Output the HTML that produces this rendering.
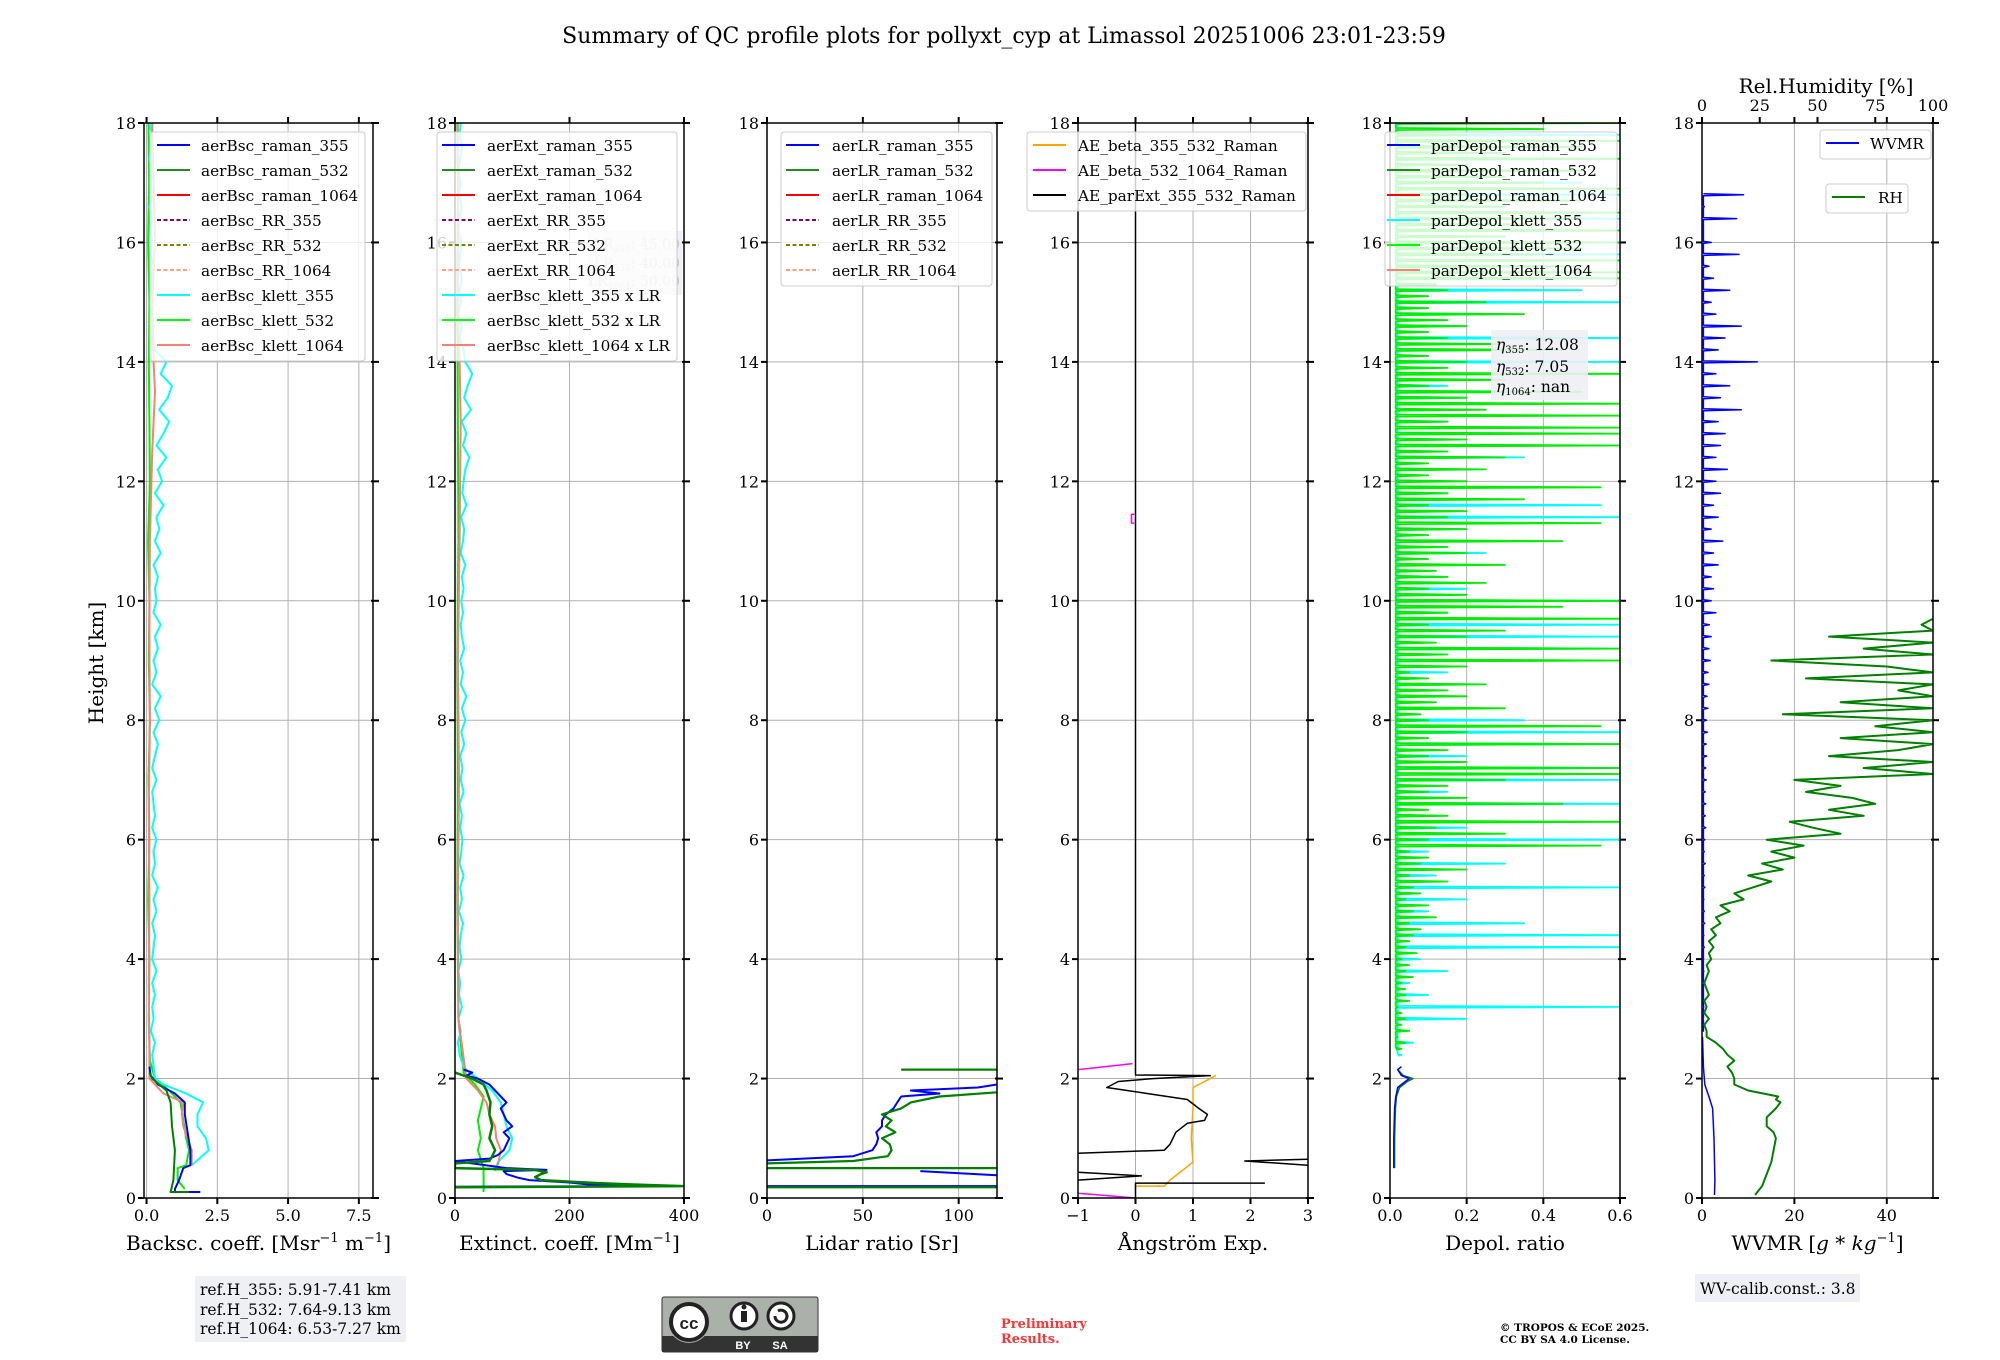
<!DOCTYPE html>
<html><head><meta charset="utf-8"><style>
html,body{margin:0;padding:0;background:#fff;}
svg{display:block;font-family:"DejaVu Serif","Liberation Serif",serif;}
</style></head><body>
<svg id="fig" width="2000" height="1360" viewBox="0 0 2000 1360" xmlns="http://www.w3.org/2000/svg">
<text x="1004" y="43" font-size="22" text-anchor="middle">Summary of QC profile plots for pollyxt_cyp at Limassol 20251006 23:01-23:59</text>
<text transform="translate(103,663) rotate(-90)" font-size="20" text-anchor="middle">Height [km]</text>
<g id="panels"></g>
<g>
<rect x="195" y="1276" width="211" height="66" fill="#eef0f4"/>
<text x="200" y="1295" font-size="15.5">ref.H_355: 5.91-7.41 km</text>
<text x="200" y="1315" font-size="15.5">ref.H_532: 7.64-9.13 km</text>
<text x="200" y="1334" font-size="15.5">ref.H_1064: 6.53-7.27 km</text>
</g>
<g>
<rect x="1695" y="1274" width="165" height="28" fill="#eef0f4"/>
<text x="1700" y="1294" font-size="15.5">WV-calib.const.: 3.8</text>
</g>
<g>
<rect x="662" y="1297" width="156" height="55" rx="2" fill="#abb1aa" stroke="#333" stroke-width="1"/>
<rect x="662" y="1336" width="156" height="16" fill="#333"/>
<circle cx="689" cy="1322" r="21" fill="#abb1aa"/>
<circle cx="689" cy="1322" r="18" fill="#fff" stroke="#222" stroke-width="4"/>
<text x="689" y="1329" font-size="17" font-weight="bold" text-anchor="middle" font-family="Liberation Sans,sans-serif" fill="#222">cc</text>
<circle cx="744" cy="1316" r="13" fill="#fff" stroke="#222" stroke-width="3"/>
<rect x="741" y="1311" width="6" height="11" fill="#222"/><circle cx="744" cy="1307" r="2.5" fill="#222"/>
<circle cx="781" cy="1316" r="13" fill="#fff" stroke="#222" stroke-width="3"/>
<path d="M775 1316 a6 6 0 1 0 3 -5" fill="none" stroke="#222" stroke-width="3"/>
<text x="743" y="1349" font-size="11" font-weight="bold" text-anchor="middle" fill="#fff" font-family="Liberation Sans,sans-serif">BY</text>
<text x="780" y="1349" font-size="11" font-weight="bold" text-anchor="middle" fill="#fff" font-family="Liberation Sans,sans-serif">SA</text>
</g>
<text x="1001" y="1328" font-size="13" font-weight="bold" fill="#ff3333">Preliminary</text>
<text x="1001" y="1343" font-size="13" font-weight="bold" fill="#ff3333">Results.</text>
<text x="1500" y="1331" font-size="10.5" font-weight="bold">© TROPOS &amp; ECoE 2025.</text>
<text x="1500" y="1343" font-size="10.5" font-weight="bold">CC BY SA 4.0 License.</text>
</svg>
<script>
// ---------- data ----------
const heightTicks = [0,2,4,6,8,10,12,14,16,18];
// Panel 1: backscatter [Msr-1 m-1]
const bscTicks = [0,2.5,5,7.5];
const bscTickLabels = ["0.0","2.5","5.0","7.5"];
const bscRaman355H = [0.1,0.1,0.15,0.3,0.5,0.55,0.8,1.1,1.4,1.6,1.75,1.9,2.05,2.2];
const bscRaman355V = [1.9,1.0,1.0,1.15,1.3,1.55,1.55,1.45,1.35,1.35,1.0,0.4,0.15,0.1];
const bscRaman532H = [0.1,0.1,0.3,0.8,1.2,1.6,1.8,2.0,2.1];
const bscRaman532V = [1.5,0.85,0.95,1.0,0.9,0.85,0.7,0.2,0.1];
const bscKlett355LowH = [0.55,0.8,1.0,1.2,1.4,1.6,1.75,1.9,2.0];
const bscKlett355LowV = [1.6,2.2,2.1,1.8,1.8,2.0,1.4,0.6,0.3];
const bscKlett355UpV = [0.25,0.2,0.3,0.15,0.25,0.2,0.3,0.2,0.35,0.2,
 0.25,0.3,0.2,0.35,0.25,0.4,0.2,0.3,0.25,0.35,
 0.2,0.3,0.25,0.2,0.35,0.2,0.3,0.4,0.25,0.45,
 0.3,0.5,0.2,0.35,0.25,0.4,0.3,0.5,0.25,0.35,
 0.3,0.4,0.25,0.5,0.3,0.45,0.35,0.6,0.3,0.55,
 0.4,0.7,0.35,0.6,0.8,0.45,0.75,0.9,0.5,0.7,
 0.3,0.2,0.25,0.15,0.2,0.15,0.2,0.25,0.15,0.2,
 0.15,0.2,0.1,0.25,0.15,0.2,0.1,0.15,0.2,0.1];
const bscKlett532H = [0.15,0.3,0.5,0.55,0.8,1.0,1.3,1.6,1.8,2.0,2.3,3,4,5,6,7,8,9,10,11,12,13,14,15,16,17,18];
const bscKlett532V = [1.35,1.1,1.1,1.4,1.5,1.4,1.3,1.2,0.8,0.3,0.12,0.08,0.1,0.06,0.1,0.07,0.12,0.08,0.1,0.06,0.12,0.1,0.08,0.1,0.06,0.09,0.07];
const bscKlett1064H = [0.55,0.8,1.0,1.2,1.4,1.6,1.75,2.0,2.5,3.5,5,6.5,8,9.5,11,12.5,13.5,14,15,16,17,18];
const bscKlett1064V = [1.6,1.6,1.45,1.3,1.25,1.3,0.6,0.1,0.1,0.08,0.1,0.08,0.12,0.1,0.12,0.2,0.3,0.25,0.2,0.3,0.25,0.2];
// Panel 2: extinction [Mm-1]
const extTicks = [0,200,400];
const extTickLabels = ["0","200","400"];
const extRaman355H = [0.19,0.2,0.22,0.26,0.3,0.34,0.4,0.45,0.47,0.5,0.62,0.66,0.72,0.8,0.9,1.0,1.1,1.2,1.3,1.4,1.5,1.6,1.7,1.8,1.9,2.0,2.05,2.1,2.15];
const extRaman355V = [0,300,240,200,130,110,90,85,160,90,0,60,75,85,90,95,85,100,90,85,80,90,80,70,60,40,20,30,15];
const extRaman532H = [0.18,0.2,0.22,0.25,0.3,0.35,0.4,0.43,0.47,0.5,0.52,0.58,0.62,0.7,0.8,1.0,1.2,1.4,1.6,1.8,1.9,2.0,2.1];
const extRaman532V = [0,400,330,250,150,140,150,160,140,0,0,0,60,65,70,60,65,60,62,55,50,30,0];
const extKlett355LowH = [0.45,0.6,0.8,1.0,1.2,1.4,1.6,1.8,2.0,2.1,2.2];
const extKlett355LowV = [70,75,95,100,90,85,80,65,40,25,15];
const extKlett355UpV = [8,5,10,6,12,7,9,6,11,8,
 10,14,7,12,9,15,8,11,13,9,
 12,8,15,10,13,9,16,11,18,12,
 20,10,14,9,16,12,10,14,11,15,
 12,18,10,14,16,11,20,13,15,18,
 25,14,20,12,28,16,22,30,18,15,
 8,12,6,10,8,12,7,9,11,6,
 8,12,7,10,6,9,12,8,10];
const extKlett532H = [0.1,0.5,0.8,1.0,1.3,1.5,1.7,1.9,2.1,3,5,7,9,11,13,15,17,18];
const extKlett532V = [50,50,40,45,40,45,50,35,15,6,4,5,4,6,5,4,5,4];
const extKlett1064H = [0.55,0.8,1.0,1.2,1.4,1.6,1.8,2.0,3,5,7,9,11,13,14,15,17,18];
const extKlett1064V = [75,80,72,70,60,55,40,20,6,5,7,5,8,10,8,5,6,5];
// Panel 3: lidar ratio [sr]
const lrTicks = [0,50,100];
const lrTickLabels = ["0","50","100"];
const lr355H = [0.2,0.2,null,0.38,0.45,null,0.63,0.7,0.8,0.9,1.0,1.1,1.2,1.3,1.4,1.5,1.6,1.7,1.75,1.8,1.85,1.9];
const lr355V = [0,120,null,120,80,null,0,45,55,57,58,57,60,60,62,66,68,70,90,75,110,120];
const lr532H = [0.18,0.18,null,0.5,0.5,null,0.58,0.62,0.7,0.8,0.9,1.0,1.1,1.2,1.3,1.4,1.5,1.6,1.7,1.77,null,2.15,2.15];
const lr532V = [0,120,null,0,120,null,0,45,63,65,64,60,67,62,65,60,70,75,90,120,null,70,120];
// Panel 4: Angstrom exponent
const aeTicks = [-1,0,1,2,3];
const aeTickLabels = ["\u22121","0","1","2","3"];
const aeBeta355532H = [0.15,0.2,0.2,0.3,0.45,0.6,1.0,1.5,1.85,2.0,2.05];
const aeBeta355532V = [0,0,0.5,0.6,0.8,1.0,0.97,1.0,1.0,1.3,1.4];
const aeBeta5321064H = [0,0.08,null,2.15,2.25,null,11.3,11.3,11.45,11.45];
const aeBeta5321064V = [0,-1,null,-1,-0.05,null,-0.02,-0.07,-0.07,-0.02];
const aeParExtH = [0,0.25,0.25,null,0.3,0.37,0.43,null,0.55,0.62,0.65,null,0.75,0.8,0.9,1.1,1.25,1.3,1.4,1.5,1.65,1.75,1.85,1.95,2.0,2.05,2.06,18];
const aeParExtV = [0,0,2.25,null,-1,0.1,-1,null,3,1.9,3,null,-1,0.5,0.6,0.7,0.9,1.2,1.25,1.1,0.9,0.2,-0.5,-0.3,0.3,1.3,0,0];
// Panel 5: particle depolarization ratio
const dpTicks = [0,0.2,0.4,0.6];
const dpTickLabels = ["0.0","0.2","0.4","0.6"];
const dpRaman355H = [0.5,1.0,1.5,1.7,1.85,1.95,2.0,2.05,2.15,2.2];
const dpRaman355V = [0.01,0.01,0.012,0.015,0.02,0.04,0.05,0.03,0.02,0.03];
const dpRaman532H = [0.5,1.0,1.5,1.7,1.85,1.95,2.0,2.05,2.15];
const dpRaman532V = [0.012,0.012,0.014,0.017,0.025,0.045,0.06,0.035,0.02];
const dpKlett532V = [.03,.04,.02,.05,.03,.04,.03,.02,.05,.04,
 .04,.03,.06,.04,.05,.03,.07,.04,.05,.06,
 .08,.05,.12,.06,.1,.04,.08,.06,.15,.05,
 .2,.08,.1,.05,.55,.1,.3,.12,.6,.15,
 .1,.45,.2,.1,.15,.3,.6,.6,.2,.1,
 .15,.6,.1,.2,.55,.1,.08,.3,.12,.2,
 .15,.25,.1,.05,.2,.6,.15,.6,.12,.2,
 .3,.1,.6,.15,.45,.6,.2,.1,.25,.15,
 .12,.3,.1,.2,.15,.45,.1,.2,.55,.15,
 .2,.1,.35,.15,.55,.2,.1,.25,.1,.3,
 .15,.6,.2,.6,.6,.15,.6,.25,.6,.2,
 .5,.1,.3,.6,.15,.2,.1,.45,.3,.15,
 .1,.2,.15,.35,.1,.25,.1,.15,.12,.6,
 .6,.5,.6,.4,.5,.6,.3,.6,.4,.5,
 .6,.3,.5,.2,.6,.4,.3,.5,.2,.6,
 .3,.5,.6,.2,.4,.6];
const dpKlett355V = [.03,.06,.04,.2,.6,.1,.05,.15,.08,.6,
 .6,.35,.1,.2,.6,.12,.3,.1,.6,.2,
 .1,.6,.15,.6,.6,.2,.6,.6,.35,.15,
 .1,.2,.15,.2,.6,.6,.6,.15,.6,.2,
 .15,.1,.25,.3,.2,.6,.55,.15,.1,.2,
 .35,.1,.2,.15,.1,.2,.15,.1,.6,.3,
 .6,.2,.3,.6,.5,.6,.4,.6,.3,.5,
 .6,.3,.6,.5,.4,.6,.5,.6,.4];
// Panel 6: WVMR [g/kg] and RH [%]
const wvTicks = [0,20,40];
const wvTickLabels = ["0","20","40"];
const rhTicks = [0,25,50,75,100];
const rhTickLabels = ["0","25","50","75","100"];
const wvLowH = [0.05,0.3,1.0,1.5,1.7,1.9,2.2,2.7];
const wvLowV = [2.7,2.8,2.6,2.3,1.5,0.6,0.3,0.1];
const wvUpV = [.3,.2,.4,.3,.5,.4,.3,.5,.4,.6,
 .5,.4,.6,.5,.7,.5,.6,.8,.7,.8,
 .7,.9,.8,1,.9,1.2,1,1.3,1.1,1.5,
 1.3,1.8,1.5,2,1.6,3,2,2.5,2,3.5,
 2.5,4.5,2,3.5,2.5,4,3,5.5,3,4,
 5,3.5,8.5,4,6,3,12,3.5,5,8.5,
 3,2,6,2.5,1.5,8,2,0.3,7.5,0.5,
 9];
const rhLowH = [0.05,0.1,0.2,0.4,0.6,0.8,1.0,1.1,1.2,1.35,1.5,1.6,1.65,1.7,1.8,1.9,2.0,2.1,2.2,2.3,2.4,2.5,2.6,2.7];
const rhLowV = [23,24,26,28,30,31,32,31,28,28,32,34,32,33,20,14,14,13,11,14,11,9,6,2];
const rhUpV = [2,1,3,1,2,1,3,2,1,2,
 3,2,4,3,5,3,6,4,8,6,
 12,8,18,14,22,30,20,35,26,40,
 30,44,28,60,48,38,70,55,75,65,
 45,60,40,100,70,100,55,85,100,60,
 100,75,100,35,100,60,100,85,100,45,
 100,80,30,100,70,100,55,100,95,100];

// ---------- layout ----------
const NS = "http://www.w3.org/2000/svg";
const TOP = 123, BOT = 1198, HMAX = 18;
function Y(h){ return BOT - h*(BOT-TOP)/HMAX; }
function grid(start, step, n){ const a=[]; for(let i=0;i<n;i++) a.push(+(start+i*step).toFixed(3)); return a; }
const panels = [
 {id:"bsc", x0:144, x1:373, min:-0.09, max:8},
 {id:"ext", x0:455, x1:684, min:0, max:400},
 {id:"lr", x0:767, x1:997, min:0, max:120},
 {id:"ae", x0:1078, x1:1308, min:-1, max:3},
 {id:"dp", x0:1390, x1:1620, min:0, max:0.6},
 {id:"wv", x0:1702, x1:1933, min:0, max:50}
];
function X(p,v){ return p.x0 + (v-p.min)/(p.max-p.min)*(p.x1-p.x0); }
const root = document.getElementById("panels");
const fig = document.getElementById("fig");
function mk(tag, attrs, parent){ const e=document.createElementNS(NS,tag); for(const k in attrs) e.setAttribute(k,attrs[k]); (parent||root).appendChild(e); return e; }
const defs = mk("defs",{},fig);

function drawAxes(p, ticks, labels, xlabel){
  const g = mk("g",{});
  
  
  const cp = mk("clipPath",{id:"clip-"+p.id},defs);
  mk("rect",{x:p.x0,y:TOP,width:p.x1-p.x0,height:BOT-TOP},cp);
  ticks.forEach((t,i)=>{
    const x = X(p,t);
    const gl = mk("line",{x1:x,x2:x,y1:TOP,y2:BOT,stroke:"#b0b0b0","stroke-width":1},g);
    
    
    mk("line",{x1:x,x2:x,y1:BOT,y2:BOT+6,stroke:"#000","stroke-width":2},g);
    mk("line",{x1:x,x2:x,y1:TOP,y2:TOP-6,stroke:"#000","stroke-width":2},g);
    const tl = mk("text",{x:x,y:BOT+23,"font-size":16,"text-anchor":"middle"},g);
    tl.textContent = labels[i];
    
    
  });
  heightTicks.forEach(h=>{
    const y = Y(h);
    const gl = mk("line",{x1:p.x0,x2:p.x1,y1:y,y2:y,stroke:"#b0b0b0","stroke-width":1},g);
    
    
    mk("line",{x1:p.x0-6,x2:p.x0,y1:y,y2:y,stroke:"#000","stroke-width":2},g);
    mk("line",{x1:p.x1-2,x2:p.x1+6,y1:y,y2:y,stroke:"#000","stroke-width":2},g);
    const tl = mk("text",{x:p.x0-8,y:y+6,"font-size":16,"text-anchor":"end"},g);
    tl.textContent = h;
    
    
  });
  const lab = mk("text",{x:(p.x0+p.x1)/2,y:BOT+52,"font-size":20,"text-anchor":"middle"},g);
  lab.innerHTML = xlabel;
  
  
  return g;
}
function drawFrame(p){
  const f = mk("rect",{x:p.x0,y:TOP,width:p.x1-p.x0,height:BOT-TOP,fill:"none",stroke:"#000","stroke-width":1.5});
  
  
}
function series(p, H, V, color, width, name, opts){
  opts = opts||{};
  let d = "", pen = false;
  for(let i=0;i<H.length;i++){
    if(H[i]===null || V[i]===null){ pen=false; continue; }
    if(opts.spikeBase!==undefined){
      const b = X(p,opts.spikeBase), y = Y(H[i]);
      d += (pen?"L":"M")+b.toFixed(1)+","+(y+1).toFixed(1)+"L"+X(p,V[i]).toFixed(1)+","+y.toFixed(1)+"L"+b.toFixed(1)+","+(y-1).toFixed(1);
      pen = true;
    } else {
      d += (pen?"L":"M")+X(p,V[i]).toFixed(1)+","+Y(H[i]).toFixed(1);
      pen = true;
    }
  }
  const el = mk("path",{d:d,fill:"none",stroke:color,"stroke-width":width,"stroke-linejoin":"round","clip-path":"url(#clip-"+p.id+")","opacity":opts.opacity||1});
  
  
  return el;
}
function legend(x, y, w, entries, name, tx, lx){
  const g = mk("g",{});
  
  
  const h = entries.length*25 + 4;
  mk("rect",{x:x,y:y,width:w,height:h,rx:3,fill:"#fff","fill-opacity":0.8,stroke:"#cccccc","stroke-width":1},g);
  entries.forEach((e,i)=>{
    const cy = y + 13 + i*25;
    const ln = mk("line",{x1:x+lx,x2:x+lx+33,y1:cy,y2:cy,stroke:e[1],"stroke-width":2,"stroke-dasharray":e[2]?"4,2.5":"none"},g);
    
    
    const t = mk("text",{x:x+tx,y:cy+6,"font-size":15.3},g);
    t.textContent = e[0];
    
    
  });
}

const [P1,P2,P3,P4,P5,P6] = panels;
// Panel 1
drawAxes(P1, bscTicks, bscTickLabels, 'Backsc. coeff. [Msr<tspan dy="-8" font-size="13">\u22121</tspan><tspan dy="8"> m</tspan><tspan dy="-8" font-size="13">\u22121</tspan><tspan dy="8">]</tspan>');
const bscK355H = bscKlett355LowH.concat(grid(2.2,0.2,80));
const bscK355V = bscKlett355LowV.concat(bscKlett355UpV);
series(P1, bscKlett532H, bscKlett532V, "#00ee00", 2, "bsc-klett-532-line");
series(P1, bscK355H, bscK355V, "#00ffff", 2, "bsc-klett-355-line");
series(P1, bscKlett1064H, bscKlett1064V, "#fa8072", 2, "bsc-klett-1064-line");
series(P1, bscRaman355H, bscRaman355V, "#0000ff", 2, "bsc-raman-355-line");
series(P1, bscRaman532H, bscRaman532V, "#008000", 2, "bsc-raman-532-line");
drawFrame(P1);
// Panel 2
drawAxes(P2, extTicks, extTickLabels, 'Extinct. coeff. [Mm<tspan dy="-8" font-size="13">\u22121</tspan><tspan dy="8">]</tspan>');
const extK355H = extKlett355LowH.concat(grid(2.4,0.2,79));
const extK355V = extKlett355LowV.concat(extKlett355UpV);
series(P2, extKlett532H, extKlett532V, "#00ee00", 2, "ext-klett-532-line");
series(P2, extK355H, extK355V, "#00ffff", 2, "ext-klett-355-line");
series(P2, extKlett1064H, extKlett1064V, "#fa8072", 2, "ext-klett-1064-line");
series(P2, extRaman355H, extRaman355V, "#0000ff", 2, "ext-raman-355-line");
series(P2, extRaman532H, extRaman532V, "#008000", 2.5, "ext-raman-532-line");
drawFrame(P2);
// Panel 3
drawAxes(P3, lrTicks, lrTickLabels, 'Lidar ratio [Sr]');
series(P3, lr355H, lr355V, "#0000ff", 2, "lr-raman-355-line");
series(P3, lr532H, lr532V, "#008000", 2.2, "lr-raman-532-line");
drawFrame(P3);
// Panel 4
drawAxes(P4, aeTicks, aeTickLabels, '\u00c5ngstr\u00f6m Exp.');
series(P4, aeBeta355532H, aeBeta355532V, "#ffa500", 1.5, "ae-beta-355-532-line");
series(P4, aeBeta5321064H, aeBeta5321064V, "#ff00ff", 1.5, "ae-beta-532-1064-line");
series(P4, aeParExtH, aeParExtV, "#000000", 1.5, "ae-parext-355-532-line");
drawFrame(P4);
// Panel 5
drawAxes(P5, dpTicks, dpTickLabels, 'Depol. ratio');
series(P5, grid(2.4,0.2,79), dpKlett355V, "#00ffff", 1.8, "depol-klett-355-line", {spikeBase:0.02});
series(P5, grid(2.5,0.1,156), dpKlett532V, "#00ee00", 1.8, "depol-klett-532-line", {spikeBase:0.015});
series(P5, dpRaman532H, dpRaman532V, "#008000", 1.5, "depol-raman-532-line");
series(P5, dpRaman355H, dpRaman355V, "#0000ff", 1.5, "depol-raman-355-line");
drawFrame(P5);
// Panel 6
drawAxes(P6, wvTicks, wvTickLabels, 'WVMR [<tspan font-style="italic">g</tspan> * <tspan font-style="italic">kg</tspan><tspan dy="-8" font-size="13">\u22121</tspan><tspan dy="8">]</tspan>');
const PRH = {id:"wv", x0:P6.x0, x1:P6.x1, min:0, max:100};
const rhG = mk("g",{});


rhTicks.forEach((t,i)=>{
  const x = X(PRH,t);
  mk("line",{x1:x,x2:x,y1:TOP,y2:TOP-6,stroke:"#000","stroke-width":2},rhG);
  const tl = mk("text",{x:x,y:TOP-12,"font-size":16,"text-anchor":"middle"},rhG);
  tl.textContent = rhTickLabels[i];
  
  
});
const rhTitle = mk("text",{x:1826,y:93,"font-size":20,"text-anchor":"middle"},rhG);
rhTitle.textContent = "Rel.Humidity [%]";


series(P6, wvLowH, wvLowV, "#0000ff", 1.5, "wvmr-low-line");
series(P6, grid(2.8,0.2,71), wvUpV, "#0000ff", 1.5, "wvmr-upper-line", {spikeBase:0.3});
series(PRH, rhLowH.concat(grid(2.8,0.1,70)), rhLowV.concat(rhUpV), "#008000", 2, "rh-line");
drawFrame(P6);

// ---------- legends & annotations ----------
legend(150,132,215,[["aerBsc_raman_355","#0000ff"],["aerBsc_raman_532","#228b22"],["aerBsc_raman_1064","#ff0000"],["aerBsc_RR_355","#800080",1],["aerBsc_RR_532","#808000",1],["aerBsc_RR_1064","#ffa07a",1],["aerBsc_klett_355","#00ffff"],["aerBsc_klett_532","#00ff00"],["aerBsc_klett_1064","#fa8072"]],"bsc-legend",51,7);
const lrBox = mk("g",{});


mk("rect",{x:588,y:231,width:94,height:64,fill:"#eef0f4"},lrBox);
[["355","45.00",244],["532","40.00",263],["1064","50.00",281]].forEach(r=>{
  const t = mk("text",{x:680,y:r[2]+5,"font-size":14,"text-anchor":"end",fill:"#c8c8c8"},lrBox);
  t.innerHTML = 'LR<tspan font-size="9" dy="3">'+r[0]+'</tspan><tspan dy="-3">: '+r[1]+'</tspan>';
});
legend(437,132,240,[["aerExt_raman_355","#0000ff"],["aerExt_raman_532","#228b22"],["aerExt_raman_1064","#ff0000"],["aerExt_RR_355","#800080",1],["aerExt_RR_532","#808000",1],["aerExt_RR_1064","#ffa07a",1],["aerBsc_klett_355 x LR","#00ffff"],["aerBsc_klett_532 x LR","#00ff00"],["aerBsc_klett_1064 x LR","#fa8072"]],"ext-legend",50,5);
legend(781,132,211,[["aerLR_raman_355","#0000ff"],["aerLR_raman_532","#228b22"],["aerLR_raman_1064","#ff0000"],["aerLR_RR_355","#800080",1],["aerLR_RR_532","#808000",1],["aerLR_RR_1064","#ffa07a",1]],"lr-legend",51,5);
legend(1027,132,279,[["AE_beta_355_532_Raman","#ffa500"],["AE_beta_532_1064_Raman","#ff00ff"],["AE_parExt_355_532_Raman","#000000"]],"ae-legend",51,6);
legend(1385,132,232,[["parDepol_raman_355","#0000ff"],["parDepol_raman_532","#228b22"],["parDepol_raman_1064","#ff0000"],["parDepol_klett_355","#00ffff"],["parDepol_klett_532","#00ff00"],["parDepol_klett_1064","#fa8072"]],"depol-legend",46,2);
const etaBox = mk("g",{});


mk("rect",{x:1491,y:330,width:97,height:70,fill:"#eef0f4","fill-opacity":0.9},etaBox);
[["355","12.08",345],["532","7.05",367],["1064","nan",387]].forEach(r=>{
  const t = mk("text",{x:1496,y:r[2]+5,"font-size":15.5},etaBox);
  t.innerHTML = '<tspan font-style="italic">\u03b7</tspan><tspan font-size="10" dy="3">'+r[0]+'</tspan><tspan dy="-3">: '+r[1]+'</tspan>';
});
legend(1820,130,111,[["WVMR","#0000ff"]],"wvmr-legend",50,6);
legend(1826,184,82,[["RH","#008000"]],"rh-legend",52,6);
</script>
</body></html>
